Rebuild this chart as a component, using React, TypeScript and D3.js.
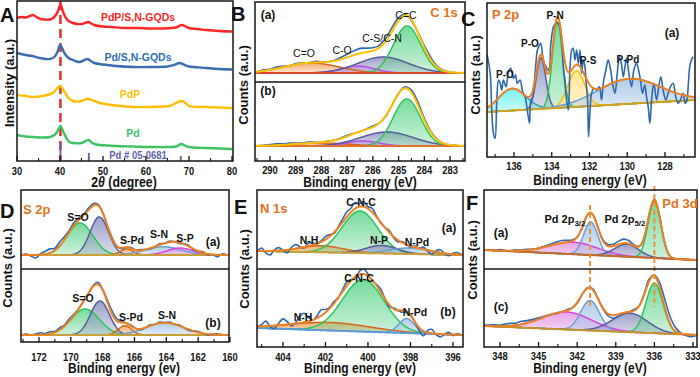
import React from 'react';
import * as d3 from 'd3';

const FONT = "'Liberation Sans', Arial, Helvetica, sans-serif";

// ================= A: XRD =================
const XRD_TICKS = [30, 40, 50, 60, 70, 80];
const XRD_PDP_SNGQDS: [number, number][] = [[30,143],[31,144],[32,143.5],[33,145],[33.7,146],[34.5,144],[35.5,142],[36.5,141.5],[37.7,141.5],[38.5,143.5],[39.2,147],[39.7,152],[40.1,157],[40.5,152],[40.9,147],[41.4,143],[42,140],[43,138],[44,137],[45,137],[45.8,138],[46.6,139],[47.3,137.5],[48,136],[50,134.5],[52,134],[55,133],[58,133],[61,132.5],[64,132.5],[66,133],[67.3,134],[68.2,136],[69,135],[70,133],[72,132],[74,131],[77,130],[80,129.5]];
const XRD_PD_SNGQDS: [number, number][] = [[30,108],[32,106],[33.5,105],[35.3,103],[37.7,102],[38.8,104.5],[39.5,110],[40,116],[40.5,113],[41,108],[42,103],[43,101],[44.6,99],[46.4,102],[47.2,100],[48,98],[50,96.5],[53,95],[57,94],[61,94],[65,94.5],[66.5,96],[67.8,98],[69,96],[70,94.5],[74,93],[77,92],[80,91.5]];
const XRD_PDP: [number, number][] = [[30,66],[32,65],[33.8,64],[36,65],[37.7,67],[38.5,68.5],[39.2,72],[39.9,75],[40.5,73],[41.2,68],[42,63],[43,60],[44.5,59.5],[46.4,62],[48,60],[49.3,58],[52,56],[57,54],[61,54],[64,54.5],[65.5,55],[66.5,57],[68.3,60],[69.3,57.5],[70,55],[74,54],[77,53.5],[80,53]];
const XRD_PD: [number, number][] = [[30,26],[32,24.5],[33.8,24],[36,23.5],[37.7,24],[38.7,26],[39.3,29],[39.8,33],[40.1,35],[40.4,33],[40.9,28],[41.5,23],[42.2,19],[43,18],[45,18],[46.6,21],[47.5,18],[48.5,16.5],[51,15.5],[53,15],[57,14.5],[61,14],[65,14],[67,14.5],[68.2,17],[69.5,14.5],[71,13.5],[74,13],[77,12.5],[80,12]];
const XRD_NAMES = ['PdP/S,N-GQDs', 'Pd/S,N-GQDs', 'PdP', 'Pd'];
const PD_CARD_ANGLES = [40.1, 46.7, 68.1];
const PD_CARD_INTENSITY = [18, 8, 5];
const PD_MAIN_PEAK = 40.1;

// ================= B: C 1s =================
const C1S_TICKS = [290, 289, 288, 287, 286, 285, 284, 283];
const C1S_A_PEAKS = [
  { name: 'C=O', center: 288.38, height: 10, fwhm: 2.5 },
  { name: 'C-O', center: 286.58, height: 7, fwhm: 1.5 },
  { name: 'C-S/C-N', center: 285.6, height: 16, fwhm: 2.3 },
  { name: 'C=C', center: 284.67, height: 47, fwhm: 1.25 },
];
const C1S_B_PEAKS = [
  { name: 'C=O', center: 288.0, height: 3, fwhm: 2.5 },
  { name: 'C-O', center: 286.4, height: 5, fwhm: 1.5 },
  { name: 'C-S/C-N', center: 285.46, height: 14, fwhm: 2.4 },
  { name: 'C=C', center: 284.68, height: 47, fwhm: 1.25 },
];
const C1S_STYLES = ['orange', 'violet', 'slate', 'green'];
const C1S_A_BASELINE = [9, 9];
const C1S_B_BASELINE = [15, 15];
const C1S_RAW_START = 290.5;
const C1S_RAW_STEP = -0.25;
const C1S_A_RESIDUAL = [0,1,0.5,1.5,1,0,1,0.5,0,1,0.5,0,0.5,2,3,4,5,4,3,2.5,3,4,3,1,-1,0,2,2.5,1,0.5,0,0,0];
const C1S_B_RESIDUAL = [0,0.5,1,1.5,1,1.5,1,0.5,1,0.5,0,0.5,0,0.5,1,0.5,0,0.5,1,0,-0.5,0,0.5,1.5,2.5,3,2,1,0.5,0,0,0,0];

// ================= C: P 2p =================
const P2P_TICKS = [136, 134, 132, 130, 128];
const P2P_PEAKS = [
  { name: 'P-O', center: 136.1, height: 22, fwhm: 1.7 },
  { name: 'P-O', center: 134.57, height: 51, fwhm: 0.6 },
  { name: 'P-N', center: 133.7, height: 86, fwhm: 0.63 },
  { name: 'P-S', center: 132.7, height: 36, fwhm: 1.05 },
  { name: 'P-Pd', center: 129.9, height: 25, fwhm: 3.9 },
];
const P2P_STYLES = ['cyan', 'slate', 'green', 'yellow', 'sky'];
const P2P_BASELINE = [45, 57];
const P2P_RAW: [number, number][] = [[137.44,103.7],[137.26,83.7],[137.18,47],[137.09,23.7],[137.0,18.7],[136.91,57],[136.82,77],[136.73,73.7],[136.65,67],[136.56,77],[136.42,70.3],[136.29,85.3],[136.17,88.7],[136.03,78.7],[135.92,82],[135.82,73.7],[135.68,77],[135.54,65.3],[135.41,60.3],[135.32,50.3],[135.18,33.7],[135.11,57],[135.01,60.3],[134.88,83.7],[134.76,107],[134.65,112],[134.58,113.7],[134.48,100.3],[134.41,93.7],[134.3,90.3],[134.23,87],[134.13,88.7],[134.06,110.3],[133.95,127],[133.86,132],[133.77,133.7],[133.7,133.7],[133.61,132],[133.53,127],[133.44,107],[133.39,90.3],[133.3,73.7],[133.21,57],[133.12,47],[133.03,90.3],[132.94,107],[132.86,108.7],[132.77,97],[132.68,107],[132.59,93.7],[132.5,107],[132.42,83.7],[132.33,97],[132.24,90.3],[132.19,77],[132.1,57],[132.05,20.3],[131.97,47],[131.89,63.7],[131.76,68.7],[131.62,67],[131.48,70.3],[131.36,57],[131.27,73.7],[131.13,87],[131.01,97],[130.88,87],[130.78,73.7],[130.65,63.7],[130.53,83.7],[130.42,100.3],[130.3,92],[130.21,80.3],[130.12,90.3],[130.04,98.7],[129.89,80.3],[129.77,70.3],[129.65,87],[129.51,93.7],[129.4,87],[129.3,77],[129.19,63.7],[129.07,72],[128.98,60.3],[128.89,50.3],[128.8,33.7],[128.71,57],[128.59,73.7],[128.45,57],[128.33,70.3],[128.22,80.3],[128.1,67],[127.96,57],[127.83,63.7],[127.71,70.3],[127.57,73.7],[127.43,60.3],[127.3,53.7],[127.18,57],[127.04,63.7],[126.93,53.7],[126.84,57],[126.76,73.7],[126.69,90.3],[126.6,97],[126.51,100.3]];

// ================= D: S 2p =================
const S2P_TICKS = [172, 170, 168, 166, 164, 162, 160];
const S2P_A_PEAKS = [
  { name: 'S=O', center: 169.42, height: 32, fwhm: 1.9 },
  { name: 'S=O b', center: 168.21, height: 38, fwhm: 1.36 },
  { name: 'S-Pd', center: 166.49, height: 6, fwhm: 0.95 },
  { name: 'S-N', center: 164.2, height: 8.3, fwhm: 2.7 },
  { name: 'S-P', center: 163.14, height: 7, fwhm: 1.9 },
];
const S2P_B_PEAKS = [
  { name: 'S=O', center: 169.1, height: 26, fwhm: 2.1 },
  { name: 'S=O b', center: 168.17, height: 34, fwhm: 1.4 },
  { name: 'S-Pd', center: 166.6, height: 9.3, fwhm: 1.0 },
  { name: 'S-N', center: 164.1, height: 12.3, fwhm: 2.8 },
];
const S2P_A_STYLES = ['green', 'slate', 'orange', 'sky', 'magenta'];
const S2P_B_STYLES = ['green', 'slate', 'orange', 'sky'];
const S2P_A_BASELINE = [14, 14];
const S2P_B_BASELINE = [7, 7];
const S2P_RAW_START = 173.1;
const S2P_RAW_STEP = -0.3;
const S2P_A_RESIDUAL = [0,1,-1,-3,1,3,4,2,4,3,2,3,2,1,2,2,1,0,0,1,0,-1,0,1,0,1,0,-1,0,1,0,1,0,-1,0,1,-1,0,1,-1,0,-2,1,0];
const S2P_B_RESIDUAL = [0,1,0,1,2,1,2,1,2,1,2,1,0,1,0,1,2,1,2,3,2,1,0,1,0,-1,0,1,0,1,0,1,0,1,0,-1,0,1,0,-1,0,1,0,0];

// ================= E: N 1s =================
const N1S_TICKS = [404, 402, 400, 398, 396];
const N1S_A_PEAKS = [
  { name: 'N-H', center: 402.18, height: 6.5, fwhm: 2.35 },
  { name: 'C-N-C', center: 400.38, height: 42, fwhm: 1.96 },
  { name: 'N-P', center: 399.36, height: 8, fwhm: 1.7 },
  { name: 'N-Pd', center: 398.02, height: 6, fwhm: 2.2 },
];
const N1S_B_PEAKS = [
  { name: 'N-H', center: 401.79, height: 8, fwhm: 4.4 },
  { name: 'C-N-C', center: 400.22, height: 52, fwhm: 2.3 },
  { name: 'N-Pd', center: 398.18, height: 14.5, fwhm: 0.86 },
];
const N1S_A_STYLES = ['orange', 'green', 'slate', 'sky'];
const N1S_B_STYLES = ['orange', 'green', 'sky'];
const N1S_A_BASELINE = [18, 14];
const N1S_B_BASELINE = [19, 12];
const N1S_RAW_START = 405.2;
const N1S_RAW_STEP = -0.2;
const N1S_A_RESIDUAL = [0,3,-2,-4,1,3,0,-3,2,4,1,-1,3,2,0,1,3,2,-1,1,3,5,4,6,3,5,2,4,1,-1,0,2,-1,-2,1,0,-1,1,0,2,-1,-3,1,3,0,-2,1,2,0];
const N1S_B_RESIDUAL = [0,2,5,-1,-3,2,6,3,-2,1,7,9,4,0,2,6,3,1,2,0,2,4,1,-2,3,5,2,-1,1,3,0,-2,1,0,-2,-1,1,0,-3,-5,2,4,-1,-3,0,2,-1,1,0];

// ================= F: Pd 3d =================
const PD3D_TICKS = [348, 345, 342, 339, 336, 333];
const PD3D_A_PEAKS = [
  { name: 'Pd 2p3/2 sat', center: 342.3, height: 12, fwhm: 4.4 },
  { name: 'Pd 2p3/2', center: 340.95, height: 33, fwhm: 1.3 },
  { name: 'Pd 2p5/2 sat', center: 338.15, height: 12.5, fwhm: 2.2 },
  { name: 'Pd 2p5/2', center: 336.0, height: 57, fwhm: 1.17 },
];
const PD3D_C_PEAKS = [
  { name: 'Pd 2p3/2 sat', center: 342.82, height: 17.5, fwhm: 4.5 },
  { name: 'Pd 2p3/2', center: 341.0, height: 30, fwhm: 1.7 },
  { name: 'Pd 2p5/2 sat', center: 337.9, height: 19, fwhm: 3.2 },
  { name: 'Pd 2p5/2', center: 336.0, height: 50, fwhm: 1.55 },
];
const PD3D_STYLES = ['magenta', 'sky', 'slate', 'green'];
const PD3D_A_BASELINE = [19, 9];
const PD3D_C_BASELINE = [21, 12];
const PD3D_RAW_START = 349.2;
const PD3D_RAW_STEP = -0.4;
const PD3D_A_RESIDUAL = [0,0.5,0,1,0.5,0,1,0.5,1,0.5,0,0.5,1,1.5,2,2.5,2,1,0,-1,0,0,0.5,1,1.5,2,3,4,3,1,0,-1,0,1,0.5,0,-0.5,0,0,0,0,0];
const PD3D_C_RESIDUAL = [1,1,1.5,1,2,2.5,2,3,2.5,2,1.5,1,0.5,0,-0.5,0,1,0,-1,0,0.5,1,0,-1,-2,-3,-2,-1,0,1,0,1,2,1,5,8,7,4,1,-1,-2,-1];
const PD3D_MARKERS = [341.0, 336.0];

// ================= styling =================
const PALETTE: Record<string, { stroke: string; fill: string }> = {
  green: { stroke: '#2dc45a', fill: '#5fd48a' },
  slate: { stroke: '#585c9c', fill: '#8d91bf' },
  violet: { stroke: '#b64be6', fill: '#d39bf0' },
  orange: { stroke: '#d7641c', fill: '#f2a15c' },
  cyan: { stroke: '#25a6a6', fill: '#5ff0f0' },
  yellow: { stroke: '#ffbf00', fill: '#ffe27a' },
  sky: { stroke: '#6a9fd4', fill: '#a3c4e6' },
  magenta: { stroke: '#e03de0', fill: '#e394e3' },
};
const RAW_BLUE = '#2f68b0';
const ENV_ORANGE = '#f0801e';
const TITLE_ORANGE = '#e8701a';

type Peak = { name: string; center: number; height: number; fwhm: number };
const gauss = (e: number, p: Peak) => p.height * Math.exp((-4 * Math.LN2 * (e - p.center) ** 2) / (p.fwhm * p.fwhm));

function T({ x, y, children, size = 11, weight = 'bold', fill = '#111', anchor = 'middle', sx = 1, rotate = 0 }: any) {
  return (
    <text transform={`translate(${x},${y}) rotate(${rotate}) scale(${sx},1)`} fontSize={size} fontWeight={weight} fill={fill} textAnchor={anchor}>
      {children}
    </text>
  );
}

function Spectrum({ x, top, bottom, peaks, styles, baseline, residual, rawStart, rawStep, rawPairs, envColor, baseColor, clipId }: any) {
  const [left, right] = x.range();
  const y = d3.scaleLinear().domain([0, bottom - top]).range([bottom, top]);
  const [d0, d1] = x.domain();
  const base = (e: number) => baseline[0] + ((baseline[1] - baseline[0]) * (e - d0)) / (d1 - d0);
  const grid = d3.range(0, 601).map((i) => d0 + ((d1 - d0) * i) / 600);
  const env = (e: number) => base(e) + d3.sum(peaks as Peak[], (p) => gauss(e, p));
  const line = d3.line<[number, number]>().x((d) => x(d[0])).y((d) => y(d[1]));
  const rawLine = d3.line<[number, number]>().x((d) => x(d[0])).y((d) => y(d[1])).curve(d3.curveCatmullRom.alpha(0.5));
  const raw: [number, number][] = rawPairs
    ? rawPairs
    : residual.map((r: number, i: number) => {
        const e = rawStart + rawStep * i;
        return [e, env(e) + r] as [number, number];
      });
  return (
    <>
      <defs>
        <clipPath id={clipId}>
          <rect x={left} y={top} width={right - left} height={bottom - top} />
        </clipPath>
      </defs>
      <g clipPath={`url(#${clipId})`}>
        {(peaks as Peak[]).map((p, i) => {
          const area = d3
            .area<number>()
            .x((e) => x(e))
            .y0((e) => y(base(e)))
            .y1((e) => y(base(e) + gauss(e, p)));
          return <path key={'f' + i} d={area(grid) || ''} fill={`url(#grad-${styles[i]})`} />;
        })}
        {(peaks as Peak[]).map((p, i) => (
          <path
            key={'s' + i}
            d={line(grid.map((e) => [e, base(e) + gauss(e, p)] as [number, number])) || ''}
            fill="none"
            stroke={PALETTE[styles[i]].stroke}
            strokeWidth={1.5}
          />
        ))}
        <path d={line(grid.map((e) => [e, base(e)] as [number, number])) || ''} fill="none" stroke={baseColor} strokeWidth={2} />
        <path d={rawLine(raw) || ''} fill="none" stroke={RAW_BLUE} strokeWidth={1.6} />
        <path d={line(grid.map((e) => [e, env(e)] as [number, number])) || ''} fill="none" stroke={envColor} strokeWidth={2} />
      </g>
    </>
  );
}

function Axis({ x, bottom, ticks, labelY, minorStep }: any) {
  const [d0, d1] = x.domain();
  const lo = Math.min(d0, d1);
  const hi = Math.max(d0, d1);
  const minor = d3.range(Math.ceil(lo / minorStep) * minorStep, hi, minorStep).filter((v) => !ticks.some((t: number) => Math.abs(t - v) < 1e-6));
  return (
    <g>
      {ticks.map((t: number) => (
        <line key={'t' + t} x1={x(t)} x2={x(t)} y1={bottom} y2={bottom - 5} stroke="#111" strokeWidth={1.3} />
      ))}
      {minor.map((t: number) => (
        <line key={'m' + t} x1={x(t)} x2={x(t)} y1={bottom} y2={bottom - 3} stroke="#111" strokeWidth={1.1} />
      ))}
      {ticks.map((t: number) => (
        <T key={'l' + t} x={x(t)} y={labelY} size={11} sx={0.85}>
          {t}
        </T>
      ))}
    </g>
  );
}

function Frame({ l, r, t, b, mid }: any) {
  return (
    <g fill="none" stroke="#151515" strokeWidth={1.5}>
      <rect x={l} y={t} width={r - l} height={b - t} />
      {mid !== undefined && <line x1={l} x2={r} y1={mid} y2={mid} />}
    </g>
  );
}

export default function App() {
  // ---------- A ----------
  const A = { l: 17, r: 233, t: 1, b: 161 };
  const xA = d3.scaleLinear().domain([30, 80]).range([17, 232]);
  const yA = d3.scaleLinear().domain([0, 160]).range([A.b, A.t]);
  const xrdLine = d3.line<[number, number]>().x((d) => xA(d[0])).y((d) => yA(d[1])).curve(d3.curveCatmullRom.alpha(0.5));
  const xrdSeries = [XRD_PDP_SNGQDS, XRD_PD_SNGQDS, XRD_PDP, XRD_PD];
  const xrdColors = ['#ff2626', '#3a6db0', '#ffbf00', '#3cc463'];
  const xrdLabelColors = ['#ff1f1f', '#2f6db5', '#ffc000', '#3cc46a'];
  const xrdLabelPos = [
    [138, 21],
    [138, 61],
    [130, 98],
    [133, 137],
  ];

  // ---------- B ----------
  const B = { l: 255, r: 465, t: 2, mid: 82, b: 161 };
  const xB = d3.scaleLinear().domain([290.58, 282.42]).range([B.l, B.r]);

  // ---------- C ----------
  const C = { l: 487, r: 695, t: 3, b: 157 };
  const xC = d3.scaleLinear().domain([137.43, 126.41]).range([C.l, C.r]);

  // ---------- D ----------
  const D = { l: 21, r: 229, t: 190, mid: 269, b: 342 };
  const xD = d3.scaleLinear().domain([173.13, 160.06]).range([D.l, D.r]);

  // ---------- E ----------
  const E = { l: 257, r: 463, t: 190, mid: 269, b: 347 };
  const xE = d3.scaleLinear().domain([405.22, 395.53]).range([E.l, E.r]);

  // ---------- F ----------
  const F = { l: 484, r: 697, t: 190, mid: 269, b: 347 };
  const xF = d3.scaleLinear().domain([349.24, 332.69]).range([F.l, F.r]);

  return (
    <svg
      width={700}
      height={377}
      viewBox="0 0 700 377"
      style={{ position: 'absolute', left: 0, top: 0, display: 'block', background: '#fff' }}
      fontFamily={FONT}
    >
      <defs>
        {Object.keys(PALETTE).map((k) => (
          <linearGradient key={k} id={`grad-${k}`} x1="0" y1="0" x2="0" y2="1">
            <stop offset="0" stopColor={PALETTE[k].fill} stopOpacity={0.85} />
            <stop offset="1" stopColor={PALETTE[k].fill} stopOpacity={0.3} />
          </linearGradient>
        ))}
      </defs>
      <rect x={0} y={0} width={700} height={377} fill="#fff" />

      {/* ================= A ================= */}
      <line x1={xA(PD_MAIN_PEAK)} x2={xA(PD_MAIN_PEAK)} y1={A.t} y2={A.b} stroke="#e0302e" strokeWidth={2.5} strokeDasharray="9,5" />
      {xrdSeries.map((s, i) => (
        <path key={i} d={xrdLine(s) || ''} fill="none" stroke={xrdColors[i]} strokeWidth={2.4} />
      ))}
      {PD_CARD_ANGLES.map((a, i) => (
        <line key={a} x1={xA(a)} x2={xA(a)} y1={yA(0)} y2={yA(PD_CARD_INTENSITY[i])} stroke="#5a5fb0" strokeWidth={1.8} />
      ))}
      <T x={138} y={159} size={10} fill="#5f5fb0" sx={0.95}>Pd # 05-0681</T>
      {XRD_NAMES.map((n, i) => (
        <T key={n} x={xrdLabelPos[i][0]} y={xrdLabelPos[i][1]} size={10.5} fill={xrdLabelColors[i]}>
          {n}
        </T>
      ))}
      <Frame l={A.l} r={A.r} t={A.t} b={A.b} />
      <Axis x={xA} bottom={A.b} ticks={XRD_TICKS} labelY={175} minorStep={5} />
      <T x={0} y={22} size={20} anchor="start">A</T>
      <T x={14} y={83} size={13} rotate={-90}>Intensity (a.u.)</T>
      <text transform="translate(124,187) scale(0.82,1)" fontSize={15} fontWeight="bold" textAnchor="middle" fill="#111">
        2<tspan fontStyle="italic">θ</tspan> (degree)
      </text>

      {/* ================= B ================= */}
      <Spectrum x={xB} top={B.t} bottom={B.mid} peaks={C1S_A_PEAKS} styles={C1S_STYLES} baseline={C1S_A_BASELINE}
        residual={C1S_A_RESIDUAL} rawStart={C1S_RAW_START} rawStep={C1S_RAW_STEP} envColor="#ffc000" baseColor="#e2462a" clipId="cB1" />
      <Spectrum x={xB} top={B.mid} bottom={B.b} peaks={C1S_B_PEAKS} styles={C1S_STYLES} baseline={C1S_B_BASELINE}
        residual={C1S_B_RESIDUAL} rawStart={C1S_RAW_START} rawStep={C1S_RAW_STEP} envColor="#ffc000" baseColor="#e2702a" clipId="cB2" />
      <Frame l={B.l} r={B.r} t={B.t} b={B.b} mid={B.mid} />
      <Axis x={xB} bottom={B.b} ticks={C1S_TICKS} labelY={174} minorStep={0.5} />
      <T x={231} y={21} size={20} anchor="start">B</T>
      <T x={444} y={17} size={13} fill={TITLE_ORANGE}>C 1s</T>
      <T x={268} y={19} size={12}>(a)</T>
      <T x={268} y={95} size={12}>(b)</T>
      <T x={406} y={19} size={10.5} weight="normal">C=C</T>
      <T x={382} y={42} size={10.5} weight="normal">C-S/C-N</T>
      <T x={342} y={54} size={10.5} weight="normal">C-O</T>
      <T x={304} y={57} size={10.5} weight="normal">C=O</T>
      <T x={248} y={85} size={13} rotate={-90}>Counts (a.u.)</T>
      <T x={360} y={187} size={15} sx={0.8}>Binding energy (eV)</T>

      {/* ================= C ================= */}
      <Spectrum x={xC} top={C.t} bottom={C.b} peaks={P2P_PEAKS} styles={P2P_STYLES} baseline={P2P_BASELINE}
        rawPairs={P2P_RAW} envColor={ENV_ORANGE} baseColor="#d4a020" clipId="cC" />
      <Frame l={C.l} r={C.r} t={C.t} b={C.b} />
      <Axis x={xC} bottom={C.b} ticks={P2P_TICKS} labelY={170} minorStep={1} />
      <T x={461} y={26} size={20} anchor="start">C</T>
      <T x={492} y={19} size={13} fill={TITLE_ORANGE} anchor="start">P 2p</T>
      <T x={672} y={37} size={12}>(a)</T>
      <T x={555} y={19} size={10}>P-N</T>
      <T x={530} y={47} size={10}>P-O</T>
      <T x={505} y={78} size={10}>P-O</T>
      <T x={588} y={64} size={10}>P-S</T>
      <T x={628} y={63} size={10}>P-Pd</T>
      <T x={480} y={75} size={13} rotate={-90}>Counts (a.u.)</T>
      <T x={590} y={185} size={15} sx={0.8}>Binding energy (eV)</T>

      {/* ================= D ================= */}
      <Spectrum x={xD} top={D.t} bottom={D.mid} peaks={S2P_A_PEAKS} styles={S2P_A_STYLES} baseline={S2P_A_BASELINE}
        residual={S2P_A_RESIDUAL} rawStart={S2P_RAW_START} rawStep={S2P_RAW_STEP} envColor={ENV_ORANGE} baseColor="#c9a035" clipId="cD1" />
      <Spectrum x={xD} top={D.mid} bottom={D.b} peaks={S2P_B_PEAKS} styles={S2P_B_STYLES} baseline={S2P_B_BASELINE}
        residual={S2P_B_RESIDUAL} rawStart={S2P_RAW_START} rawStep={S2P_RAW_STEP} envColor={ENV_ORANGE} baseColor="#c9a035" clipId="cD2" />
      <Frame l={D.l} r={D.r} t={D.t} b={D.b} mid={D.mid} />
      <Axis x={xD} bottom={D.b} ticks={S2P_TICKS} labelY={361} minorStep={1} />
      <T x={0} y={218} size={20} anchor="start">D</T>
      <T x={23} y={214} size={13} fill={TITLE_ORANGE} anchor="start">S 2p</T>
      <T x={78} y={221} size={10.5}>S=O</T>
      <T x={132} y={244} size={10.5}>S-Pd</T>
      <T x={159} y={238} size={10.5}>S-N</T>
      <T x={185} y={242} size={10.5}>S-P</T>
      <T x={213} y={246} size={12}>(a)</T>
      <T x={83} y={302} size={10.5}>S=O</T>
      <T x={131} y={321} size={10.5}>S-Pd</T>
      <T x={167} y={319} size={10.5}>S-N</T>
      <T x={213} y={327} size={12}>(b)</T>
      <T x={12} y={268} size={13} rotate={-90}>Counts (a.u.)</T>
      <T x={124} y={373} size={15} sx={0.8}>Binding energy (ev)</T>

      {/* ================= E ================= */}
      <Spectrum x={xE} top={E.t} bottom={E.mid} peaks={N1S_A_PEAKS} styles={N1S_A_STYLES} baseline={N1S_A_BASELINE}
        residual={N1S_A_RESIDUAL} rawStart={N1S_RAW_START} rawStep={N1S_RAW_STEP} envColor={ENV_ORANGE} baseColor="#c9a035" clipId="cE1" />
      <Spectrum x={xE} top={E.mid} bottom={E.b} peaks={N1S_B_PEAKS} styles={N1S_B_STYLES} baseline={N1S_B_BASELINE}
        residual={N1S_B_RESIDUAL} rawStart={N1S_RAW_START} rawStep={N1S_RAW_STEP} envColor={ENV_ORANGE} baseColor="#5b9bd5" clipId="cE2" />
      <Frame l={E.l} r={E.r} t={E.t} b={E.b} mid={E.mid} />
      <Axis x={xE} bottom={E.b} ticks={N1S_TICKS} labelY={361} minorStep={1} />
      <T x={234} y={214} size={20} anchor="start">E</T>
      <T x={260} y={213} size={13} fill={TITLE_ORANGE} anchor="start">N 1s</T>
      <T x={361} y={206} size={10.5}>C-N-C</T>
      <T x={449} y={232} size={12}>(a)</T>
      <T x={309} y={244} size={10.5}>N-H</T>
      <T x={379} y={244} size={10.5}>N-P</T>
      <T x={417} y={246} size={10.5}>N-Pd</T>
      <T x={359} y={282} size={10.5}>C-N-C</T>
      <T x={303} y={321} size={10.5}>N-H</T>
      <T x={415} y={316} size={10.5}>N-Pd</T>
      <T x={448} y={316} size={12}>(b)</T>
      <T x={249} y={269} size={13} rotate={-90}>Counts (a.u.)</T>
      <T x={360} y={373} size={15} sx={0.8}>Binding energy (ev)</T>

      {/* ================= F ================= */}
      <Spectrum x={xF} top={F.t} bottom={F.mid} peaks={PD3D_A_PEAKS} styles={PD3D_STYLES} baseline={PD3D_A_BASELINE}
        residual={PD3D_A_RESIDUAL} rawStart={PD3D_RAW_START} rawStep={PD3D_RAW_STEP} envColor={ENV_ORANGE} baseColor="#c8682a" clipId="cF1" />
      <Spectrum x={xF} top={F.mid} bottom={F.b} peaks={PD3D_C_PEAKS} styles={PD3D_STYLES} baseline={PD3D_C_BASELINE}
        residual={PD3D_C_RESIDUAL} rawStart={PD3D_RAW_START} rawStep={PD3D_RAW_STEP} envColor={ENV_ORANGE} baseColor="#c8902a" clipId="cF2" />
      <line x1={xF(PD3D_MARKERS[0])} x2={xF(PD3D_MARKERS[0])} y1={205} y2={308} stroke="#f0903a" strokeWidth={2} strokeDasharray="5,3" />
      <line x1={xF(PD3D_MARKERS[1])} x2={xF(PD3D_MARKERS[1])} y1={186} y2={307} stroke="#f0903a" strokeWidth={2} strokeDasharray="5,3" />
      <Frame l={F.l} r={F.r} t={F.t} b={F.b} mid={F.mid} />
      <Axis x={xF} bottom={F.b} ticks={PD3D_TICKS} labelY={360} minorStep={1.5} />
      <T x={466} y={210} size={20} anchor="start">F</T>
      <T x={680} y={208} size={13} fill={TITLE_ORANGE}>Pd 3d</T>
      <text x={565} y={223} fontSize={11} fontWeight="bold" textAnchor="middle" fill="#111">
        Pd 2p<tspan fontSize={8} dy={3}>3/2</tspan>
      </text>
      <text x={625} y={223} fontSize={11} fontWeight="bold" textAnchor="middle" fill="#111">
        Pd 2p<tspan fontSize={8} dy={3}>5/2</tspan>
      </text>
      <T x={501} y={237} size={12}>(a)</T>
      <T x={501} y={311} size={12}>(c)</T>
      <T x={477} y={260} size={13} rotate={-90}>Counts (a.u.)</T>
      <T x={590} y={373} size={15} sx={0.8}>Binding energy (eV)</T>
    </svg>
  );
}
